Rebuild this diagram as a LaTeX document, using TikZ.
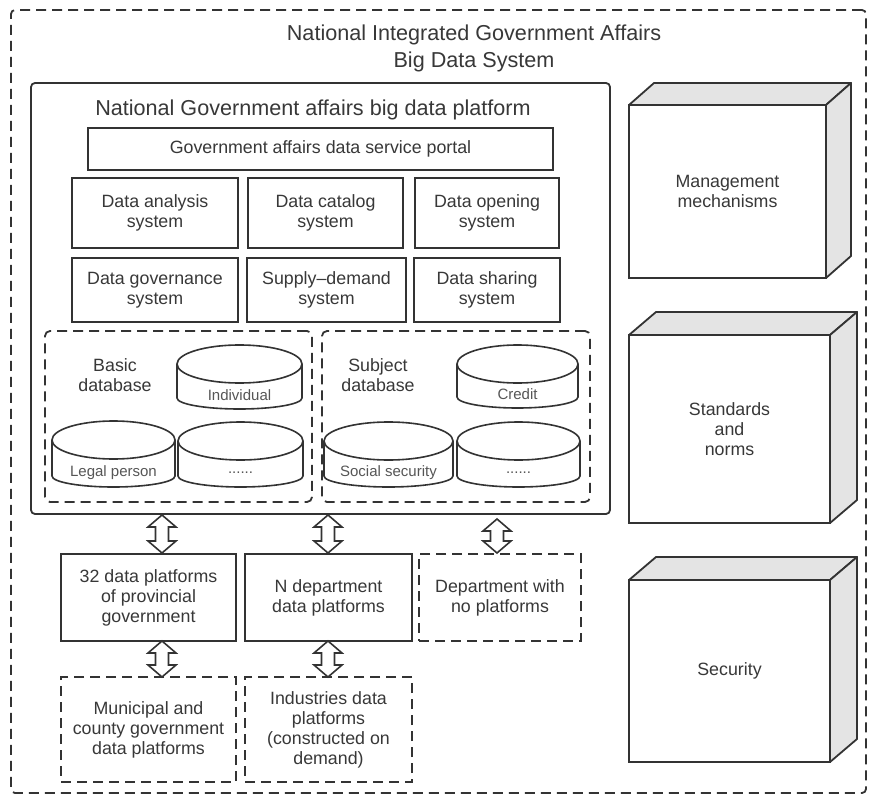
\documentclass[tikz,border=0pt]{standalone}
\usepackage{fontspec}
\setmainfont{Liberation Sans}
\definecolor{lc}{HTML}{333333}
\definecolor{tc}{HTML}{383838}
\definecolor{face}{HTML}{E4E4E4}
\newcommand\boxfont{\fontsize{17.8}{20}\selectfont}
\newcommand\titlefont{\fontsize{21.6}{27}\selectfont}
\newcommand\cylfont{\fontsize{15}{16}\selectfont}
\tikzset{
  base/.style={line width=1.8pt, draw=lc},
  solidbox/.style={base, fill=white, align=center, text=tc, font=\boxfont, inner sep=0pt, outer sep=0pt},
  dashbox/.style={solidbox, fill=none, dash pattern=on 10pt off 6pt},
  lbl/.style={align=center, text=tc, font=\boxfont, inner sep=0pt},
  cyllbl/.style={align=center, text=tc!85, font=\cylfont, inner sep=0pt},
  cyl/.style={base, line width=1.6pt, fill=white},
  dbarrow/.style={base, line width=1.6pt, fill=white, line join=miter},
  face3d/.style={base, fill=face, line join=round},
}
% cylinder: name, x1, x2, ytop, ybottom, label
\newcommand\dbcyl[6]{%
  \pgfmathsetmacro\cxa{(#2+#3)/2}%
  \pgfmathsetmacro\rxa{(#3-#2)/2}%
  \pgfmathsetmacro\yta{#4+19}%
  \pgfmathsetmacro\yba{#5-11}%
  \pgfmathsetmacro\yla{#5-14}%
  \draw[cyl] (#2,\yta) -- (#2,\yba) arc[start angle=180, end angle=0, x radius=\rxa pt, y radius=11pt] -- (#3,\yta);
  \draw[cyl] (\cxa,\yta) ellipse[x radius=\rxa pt, y radius=19pt];
  \node[cyllbl] (#1) at (\cxa,\yla) {#6};
}
% double block arrow: x, ytop, ybottom
\newcommand\dblarrow[3]{%
  \pgfmathsetmacro\xl{#1-14}\pgfmathsetmacro\xr{#1+14}%
  \pgfmathsetmacro\sl{#1-6.5}\pgfmathsetmacro\sr{#1+6.5}%
  \pgfmathsetmacro\ha{#2+12}\pgfmathsetmacro\hb{#3-12}%
  \draw[dbarrow] (#1,#2) -- (\xr,\ha) -- (\sr,\ha) -- (\sr,\hb) -- (\xr,\hb) -- (#1,#3)
     -- (\xl,\hb) -- (\sl,\hb) -- (\sl,\ha) -- (\xl,\ha) -- cycle;
}
\begin{document}
\begin{tikzpicture}[x=1pt,y=1pt,yscale=-1]
\useasboundingbox (0,0) rectangle (872,802);
\fill[white] (0,0) rectangle (872,802);

% outer frame
\node[dashbox, rounded corners=4pt, minimum width=855pt, minimum height=783pt] (outer) at (438.5,401.5) {};
\node[lbl, font=\titlefont] (title) at (474,48.5) {National Integrated Government Affairs\\Big Data System};

% platform
\node[solidbox, rounded corners=4pt, minimum width=579pt, minimum height=431pt] (plat) at (320.5,298.5) {};
\node[lbl, font=\titlefont] (plattitle) at (313,110) {National Government affairs big data platform};
\node[solidbox, minimum width=465pt, minimum height=42pt] (portal) at (320.5,149) {Government affairs data service portal};

\node[solidbox, minimum width=166pt, minimum height=70pt] (b11) at (155,213) {Data analysis\\system};
\node[solidbox, minimum width=155pt, minimum height=70pt] (b12) at (325.5,213) {Data catalog\\system};
\node[solidbox, minimum width=144pt, minimum height=70pt] (b13) at (487,213) {Data opening\\system};
\node[solidbox, minimum width=166pt, minimum height=64pt] (b21) at (155,290) {Data governance\\system};
\node[solidbox, minimum width=159pt, minimum height=64pt] (b22) at (326.5,290) {Supply--demand\\system};
\node[solidbox, minimum width=146pt, minimum height=64pt] (b23) at (487,290) {Data sharing\\system};

% databases
\node[dashbox, rounded corners=5pt, minimum width=267pt, minimum height=171pt] (basicdb) at (178.5,416.5) {};
\node[dashbox, rounded corners=5pt, minimum width=268pt, minimum height=171pt] (subjdb) at (456,416.5) {};
\node[lbl] (basiclbl) at (115,375) {Basic\\database};
\node[lbl] (subjlbl) at (378,375) {Subject\\database};

\dbcyl{cind}{177}{302}{345}{409}{Individual}
\dbcyl{clegal}{52}{175}{421}{487}{Legal person}
\dbcyl{cdots}{178}{303}{422}{487}{......}
\dbcyl{ccredit}{457}{578}{345}{408}{Credit}
\dbcyl{csocial}{324}{453}{422}{487}{Social security}
\dbcyl{cdotsb}{457}{580}{422}{487}{......}

% lower platforms
\node[solidbox, minimum width=175pt, minimum height=87pt] (prov) at (148.5,597.5) {32 data platforms\\of provincial\\government};
\node[solidbox, minimum width=167pt, minimum height=87pt] (dept) at (328.5,597.5) {N department\\data platforms};
\node[dashbox, minimum width=162pt, minimum height=87pt] (nodept) at (500,597.5) {Department with\\no platforms};
\node[dashbox, minimum width=175pt, minimum height=105pt] (muni) at (148.5,729.5) {Municipal and\\county government\\data platforms};
\node[dashbox, minimum width=167pt, minimum height=105pt] (indus) at (328.5,729.5) {Industries data\\platforms\\(constructed on\\demand)};

\dblarrow{162}{515}{553}
\dblarrow{328}{515}{553}
\dblarrow{497}{519}{553}
\dblarrow{162}{641}{677}
\dblarrow{328}{641}{677}

% right 3D boxes
\node[solidbox, minimum width=197pt, minimum height=173pt] (mgmt) at (727.5,191.5) {Management\\mechanisms};
\draw[face3d] (mgmt.north west) -- ++(25,-22) -- ++(197,0) -- (mgmt.north east) -- cycle;
\draw[face3d] (mgmt.north east) -- ++(25,-22) -- ++(0,173) -- (mgmt.south east) -- cycle;

\node[solidbox, minimum width=201pt, minimum height=188pt] (std) at (729.5,429) {Standards\\and\\norms};
\draw[face3d] (std.north west) -- ++(27,-23) -- ++(201,0) -- (std.north east) -- cycle;
\draw[face3d] (std.north east) -- ++(27,-23) -- ++(0,188) -- (std.south east) -- cycle;

\node[solidbox, minimum width=201pt, minimum height=182pt] (sec) at (729.5,671) {Security};
\draw[face3d] (sec.north west) -- ++(27,-23) -- ++(201,0) -- (sec.north east) -- cycle;
\draw[face3d] (sec.north east) -- ++(27,-23) -- ++(0,182) -- (sec.south east) -- cycle;
\end{tikzpicture}
\end{document}
